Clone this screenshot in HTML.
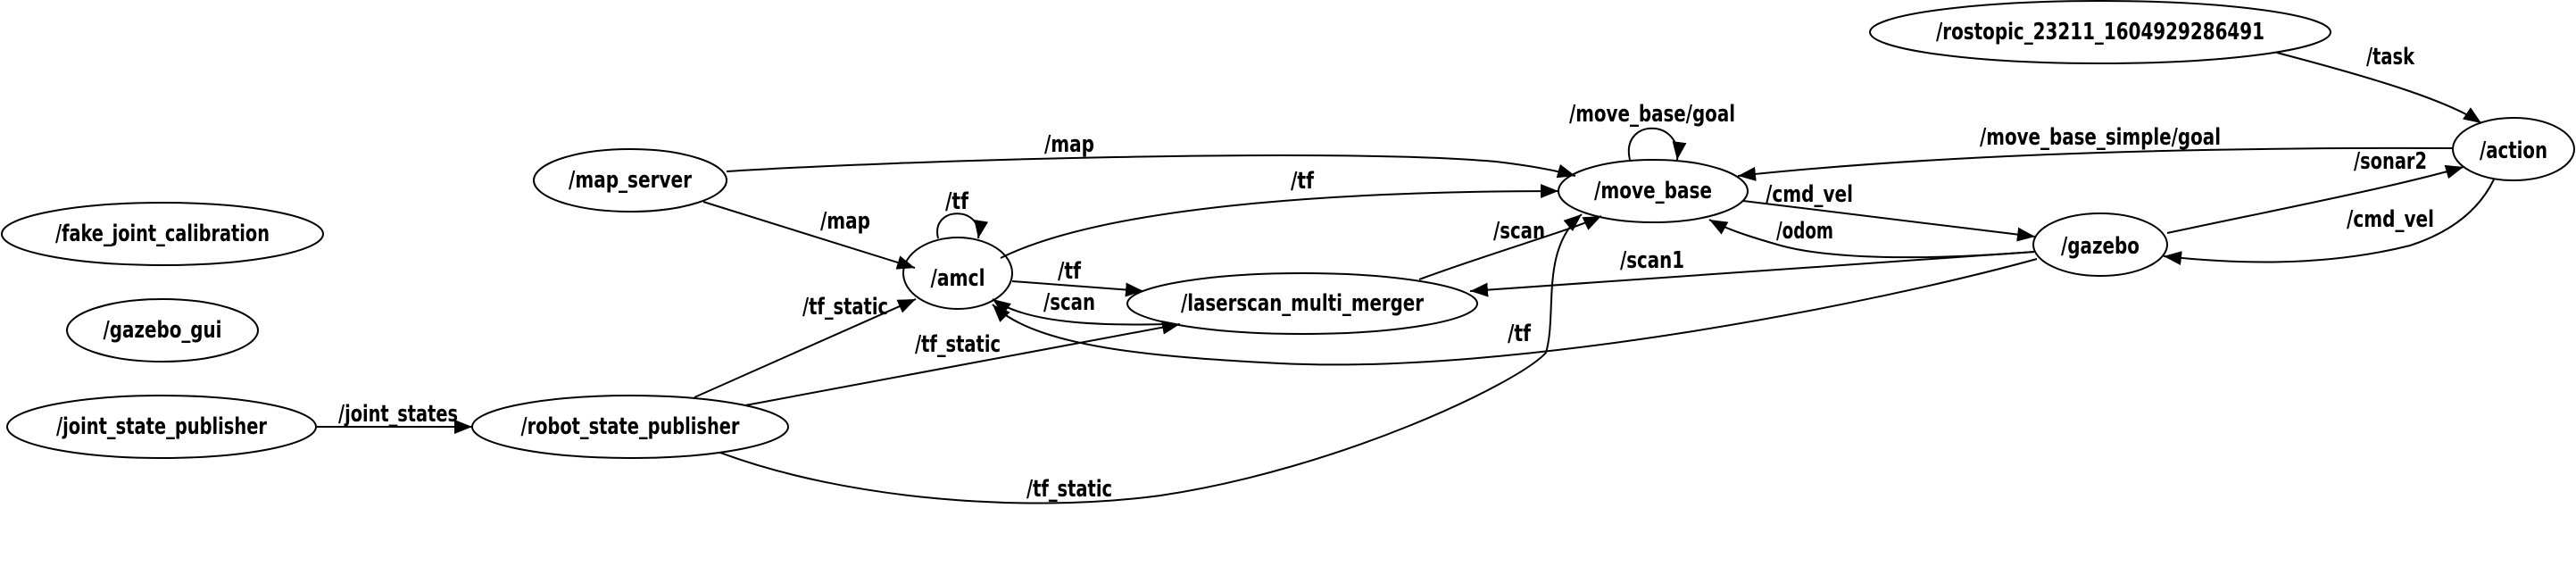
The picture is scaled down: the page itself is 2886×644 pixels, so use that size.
<!DOCTYPE html>
<html><head><meta charset="utf-8"><style>
html,body{margin:0;padding:0;background:#fff;}
svg{display:block;}
text{font-family:"DejaVu Sans Condensed","DejaVu Sans","Liberation Sans",sans-serif;font-weight:bold;font-size:26px;fill:#000;}
</style></head><body>
<svg width="2886" height="644" viewBox="0 0 2886 644" xmlns="http://www.w3.org/2000/svg">
<defs>
<marker id="a" markerUnits="userSpaceOnUse" markerWidth="22" markerHeight="16" refX="20" refY="8" orient="auto">
<path d="M0,0 L20,8 L0,16 Z" fill="#000"/>
</marker>
</defs>
<g fill="none" stroke="#000" stroke-width="2">
<ellipse cx="182" cy="262" rx="180" ry="35"/>
<ellipse cx="182" cy="370" rx="107" ry="35"/>
<ellipse cx="181" cy="478" rx="173" ry="35"/>
<ellipse cx="706" cy="202" rx="108" ry="35"/>
<ellipse cx="706" cy="478" rx="177" ry="35"/>
<ellipse cx="1073" cy="306" rx="61" ry="40"/>
<ellipse cx="1459" cy="340" rx="196" ry="34"/>
<ellipse cx="1852" cy="214" rx="106" ry="35"/>
<ellipse cx="2353" cy="36" rx="258" ry="35"/>
<ellipse cx="2816" cy="167" rx="68" ry="35"/>
<ellipse cx="2353" cy="274" rx="75" ry="35"/>
</g>
<g fill="none" stroke="#000" stroke-width="2" marker-end="url(#a)">
<path d="M355,478 L529,478"/>
<path d="M814,192 C1000,180 1500,165 1676,181 C1710,185 1740,190 1765,197"/>
<path d="M788,226 L1025,300"/>
<path d="M778,445 L1026,335"/>
<path d="M835,454 L1322,363"/>
<path d="M807,507 C950,560 1150,575 1300,555 C1500,525 1700,430 1732,395 C1745,350 1725,280 1772,240"/>
<path d="M1051,267 C1042,230 1102,230 1096,267"/>
<path d="M1121,289 C1250,225 1550,214 1746,214"/>
<path d="M1134,315 L1281,326"/>
<path d="M1306,363 C1230,365 1150,362 1112,335"/>
<path d="M1590,313 C1680,280 1760,258 1794,242"/>
<path d="M1826,179 C1815,132 1885,132 1879,179"/>
<path d="M1953,225 L2280,265"/>
<path d="M2279,282 C2150,292 2050,290 1995,275 C1960,265 1935,257 1915,246"/>
<path d="M2279,282 L1647,326"/>
<path d="M2282,290 C2100,340 1700,420 1434,407 C1300,400 1160,390 1112,341"/>
<path d="M2749,166 C2500,165 2200,170 1947,197"/>
<path d="M2551,59 C2650,85 2740,111 2780,138"/>
<path d="M2428,261 C2550,235 2680,210 2760,187"/>
<path d="M2794,201 C2775,240 2740,262 2700,275 C2600,300 2500,295 2424,287"/>
</g>
<g text-anchor="middle" dominant-baseline="central" lengthAdjust="spacingAndGlyphs">
<text x="182" y="262" textLength="240" lengthAdjust="spacingAndGlyphs">/fake_joint_calibration</text>
<text x="182" y="370" textLength="133" lengthAdjust="spacingAndGlyphs">/gazebo_gui</text>
<text x="181" y="478" textLength="236" lengthAdjust="spacingAndGlyphs">/joint_state_publisher</text>
<text x="706" y="202" textLength="138" lengthAdjust="spacingAndGlyphs">/map_server</text>
<text x="706" y="478" textLength="245" lengthAdjust="spacingAndGlyphs">/robot_state_publisher</text>
<text x="1073" y="312" textLength="61" lengthAdjust="spacingAndGlyphs">/amcl</text>
<text x="1459" y="340" textLength="272" lengthAdjust="spacingAndGlyphs">/laserscan_multi_merger</text>
<text x="1852" y="214" textLength="132" lengthAdjust="spacingAndGlyphs">/move_base</text>
<text x="2353" y="36" textLength="368" lengthAdjust="spacingAndGlyphs">/rostopic_23211_1604929286491</text>
<text x="2816" y="169" textLength="76" lengthAdjust="spacingAndGlyphs">/action</text>
<text x="2353" y="276" textLength="88" lengthAdjust="spacingAndGlyphs">/gazebo</text>

<text x="446" y="464" textLength="134" lengthAdjust="spacingAndGlyphs">/joint_states</text>
<text x="947" y="248" textLength="56" lengthAdjust="spacingAndGlyphs">/map</text>
<text x="947" y="344" textLength="96" lengthAdjust="spacingAndGlyphs">/tf_static</text>
<text x="1198" y="162" textLength="56" lengthAdjust="spacingAndGlyphs">/map</text>
<text x="1459" y="203" textLength="26" lengthAdjust="spacingAndGlyphs">/tf</text>
<text x="1072" y="226" textLength="26" lengthAdjust="spacingAndGlyphs">/tf</text>
<text x="1198" y="304" textLength="26" lengthAdjust="spacingAndGlyphs">/tf</text>
<text x="1198" y="339" textLength="58" lengthAdjust="spacingAndGlyphs">/scan</text>
<text x="1073" y="386" textLength="96" lengthAdjust="spacingAndGlyphs">/tf_static</text>
<text x="1702" y="259" textLength="58" lengthAdjust="spacingAndGlyphs">/scan</text>
<text x="1198" y="548" textLength="96" lengthAdjust="spacingAndGlyphs">/tf_static</text>
<text x="1702" y="374" textLength="26" lengthAdjust="spacingAndGlyphs">/tf</text>
<text x="1851" y="292" textLength="72" lengthAdjust="spacingAndGlyphs">/scan1</text>
<text x="2022" y="259" textLength="64" lengthAdjust="spacingAndGlyphs">/odom</text>
<text x="2027" y="218" textLength="98" lengthAdjust="spacingAndGlyphs">/cmd_vel</text>
<text x="1851" y="128" textLength="186" lengthAdjust="spacingAndGlyphs">/move_base/goal</text>
<text x="2353" y="154" textLength="270" lengthAdjust="spacingAndGlyphs">/move_base_simple/goal</text>
<text x="2678" y="64" textLength="54" lengthAdjust="spacingAndGlyphs">/task</text>
<text x="2678" y="181" textLength="82" lengthAdjust="spacingAndGlyphs">/sonar2</text>
<text x="2678" y="246" textLength="98" lengthAdjust="spacingAndGlyphs">/cmd_vel</text>
</g>
</svg>
</body></html>
